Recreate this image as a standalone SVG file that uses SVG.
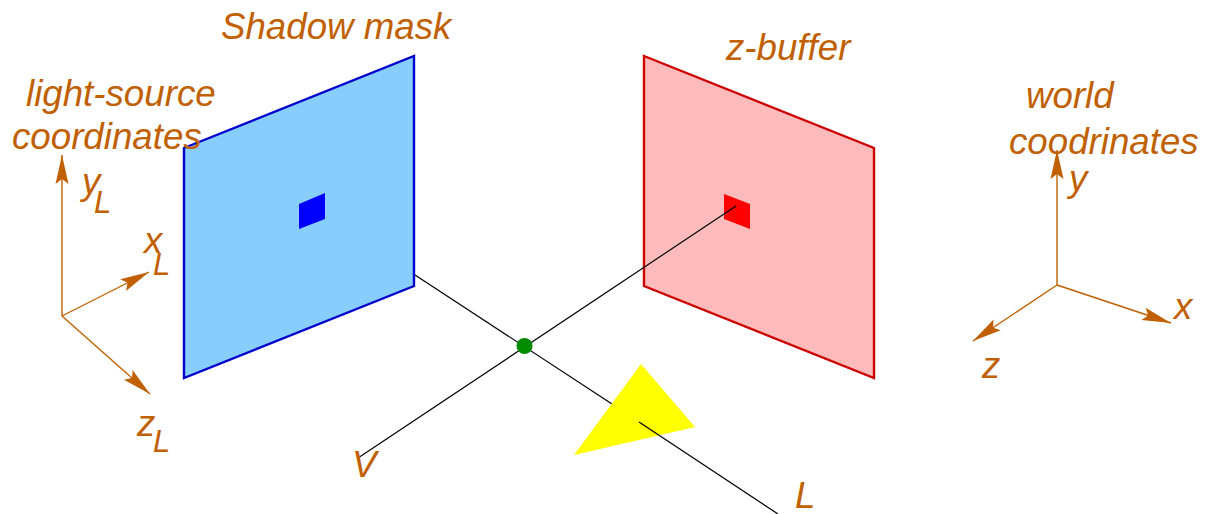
<svg xmlns="http://www.w3.org/2000/svg" width="1209" height="514" viewBox="0 0 1209 514">
<style>
text{font-family:"Liberation Sans",Arial,sans-serif;font-style:italic;font-size:36.700px;fill:#c06000}
text.sub{font-size:31px}
.axis{stroke:#c06000;stroke-width:1.4;fill:none;marker-end:url(#ah)}
.ray{stroke:#000;stroke-width:1.2;fill:none}
</style>
<defs>
<marker id="ah" markerUnits="userSpaceOnUse" markerWidth="32" markerHeight="18" refX="29" refY="8" orient="auto" overflow="visible">
<path d="M29,8 L0,1.500 L5,8 L0,14.500 Z" fill="#c06000"/>
</marker>
</defs>
<rect width="1209" height="514" fill="#fff"/>
<g id="shadow-mask">
<polygon points="184,148 414,56 414,286 184,378" fill="#87ceff" stroke="#0000cd" stroke-width="2.400"/>
<polygon points="299,204 325,193 325,219 299,229" fill="#0000ff"/>
<text x="221" y="39">Shadow mask</text>
</g>
<g id="z-buffer">
<polygon points="644,56 874,148 874,378 644,286" fill="#ffbbbb" stroke="#cd0000" stroke-width="2.400"/>
<polygon points="724,194 750,204 750,229 724,219" fill="#ff0000"/>
<text x="726" y="60">z-buffer</text>
</g>
<g id="connectors">
<line class="ray" x1="415" y1="275" x2="612" y2="404"/>
<line class="ray" x1="358" y1="458" x2="736" y2="206"/>
<path class="axis" d="M62,316 L62,155"/>
<path class="axis" d="M62,316 L149,272"/>
<path class="axis" d="M62,316 L150,394"/>
<path class="axis" d="M1057,285 L1057,150"/>
<path class="axis" d="M1057,285 L1171,323"/>
<path class="axis" d="M1057,285 L973,341"/>
</g>
<g id="triangle">
<polygon points="641,364 695,427 574,455" fill="#ffff00"/>
<line class="ray" x1="639" y1="422" x2="778" y2="514"/>
</g>
<g id="point">
<circle cx="524.500" cy="346" r="8" fill="#008b00"/>
</g>
<g id="light-axes">
<text x="26" y="106">light-source</text>
<text x="12" y="149">coordinates</text>
<text x="82" y="194">y</text>
<text class="sub" x="94" y="213">L</text>
<text x="144" y="253">x</text>
<text class="sub" x="153" y="275">L</text>
<text x="137" y="436">z</text>
<text class="sub" x="153" y="452">L</text>
</g>
<g id="world-axes">
<text x="1026" y="108">world</text>
<text x="1009" y="154">coodrinates</text>
<text x="1069" y="191">y</text>
<text x="1174" y="319">x</text>
<text x="982" y="378">z</text>
</g>
<g id="ray-labels">
<text x="352" y="477">V</text>
<text x="795" y="508">L</text>
</g>
</svg>
